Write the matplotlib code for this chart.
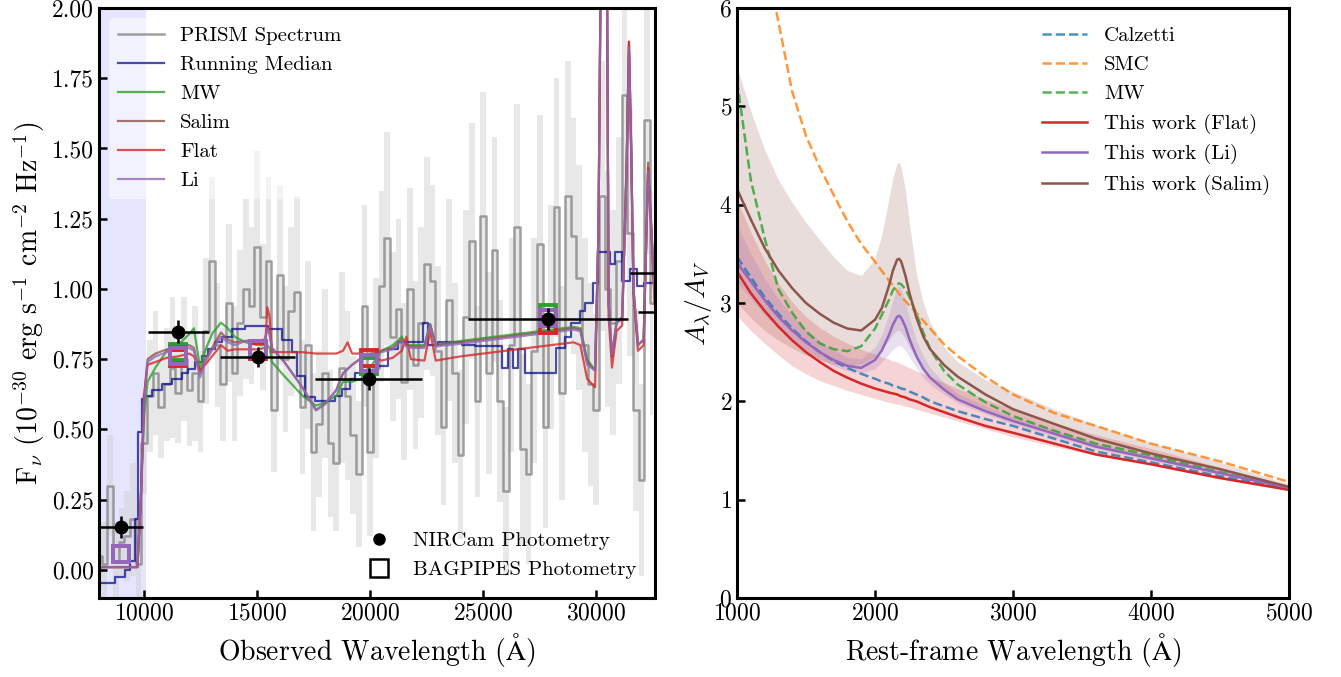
import numpy as np
import matplotlib
matplotlib.use("Agg")
import matplotlib.pyplot as plt

plt.rcParams['font.family'] = ['cmr10', 'DejaVu Serif']
plt.rcParams['mathtext.fontset'] = 'cm'
plt.rcParams['axes.formatter.use_mathtext'] = True

# ---- left panel: PRISM spectrum (flux, 1e-30 erg/s/cm2/Hz) ----
prism_wave = [8000, 8250, 8500, 8750, 9000, 9250, 9500, 9750, 10000, 10250,
              10500, 10750, 11000, 11250, 11500, 11750, 12000, 12250, 12500, 12750,
              13000, 13250, 13500, 13750, 14000, 14250, 14500, 14750, 15000, 15250,
              15500, 15750, 16000, 16250, 16500, 16750, 17000, 17250, 17500, 17750,
              18000, 18250, 18500, 18750, 19000, 19250, 19500, 19750, 20000, 20250,
              20500, 20750, 21000, 21250, 21500, 21750, 22000, 22250, 22500, 22750,
              23000, 23250, 23500, 23750, 24000, 24250, 24500, 24750, 25000, 25250,
              25500, 25750, 26000, 26250, 26500, 26750, 27000, 27250, 27500, 27750,
              28000, 28250, 28500, 28750, 29000, 29250, 29500, 29750, 30000, 30250,
              30500, 30750, 31000, 31250, 31500, 31750, 32000, 32250, 32500]
prism_flux = [0.05, 0.02, 0.30, 0.03, 0.10, 0.12, 0.18, 0.02, 0.45, 0.62,
              0.70, 0.58, 0.66, 0.72, 0.63, 0.75, 0.64, 0.70, 0.60, 0.85,
              1.10, 0.80, 0.66, 0.95, 0.70, 0.88, 1.00, 0.94, 1.15, 0.90,
              1.10, 0.57, 1.05, 0.75, 0.92, 0.99, 0.58, 0.80, 0.42, 0.52,
              0.70, 0.45, 0.38, 0.72, 0.62, 0.48, 0.34, 0.94, 0.42, 0.72,
              1.01, 1.18, 0.83, 0.93, 0.67, 1.00, 0.73, 0.88, 1.09, 1.03,
              0.78, 0.51, 0.96, 0.70, 0.41, 0.90, 1.17, 0.60, 1.26, 0.70,
              1.14, 0.60, 0.28, 0.80, 1.22, 0.43, 0.34, 0.78, 1.16, 0.51,
              0.90, 1.29, 0.63, 1.33, 1.19, 1.04, 0.80, 0.66, 0.57, 1.33,
              1.00, 0.88, 1.10, 1.69, 1.20, 0.57, 0.32, 1.60, 0.95]
prism_err = [0.12, 0.15, 0.18, 0.14, 0.12, 0.16, 0.20, 0.14, 0.18, 0.20,
             0.22, 0.18, 0.20, 0.25, 0.18, 0.22, 0.20, 0.24, 0.18, 0.26,
             0.30, 0.22, 0.20, 0.28, 0.24, 0.26, 0.32, 0.28, 0.34, 0.26,
             0.30, 0.22, 0.32, 0.26, 0.30, 0.34, 0.24, 0.30, 0.28, 0.26,
             0.30, 0.26, 0.24, 0.34, 0.30, 0.28, 0.26, 0.36, 0.30, 0.32,
             0.34, 0.38, 0.30, 0.32, 0.28, 0.36, 0.30, 0.34, 0.38, 0.34,
             0.30, 0.28, 0.36, 0.32, 0.30, 0.38, 0.42, 0.34, 0.44, 0.36,
             0.40, 0.36, 0.30, 0.38, 0.44, 0.34, 0.32, 0.40, 0.46, 0.36,
             0.40, 0.46, 0.38, 0.48, 0.42, 0.40, 0.38, 0.36, 0.34, 0.48,
             0.42, 0.40, 0.44, 0.50, 0.44, 0.36, 0.34, 0.48, 0.40]

# running median (step edges)
med_wave = [8000, 8700, 9150, 9370, 9590, 9740, 9890, 10000, 10330, 10770,
            11210, 11660, 11950, 12250, 12540, 12840, 13130, 13430, 13870, 14460,
            15490, 16080, 16520, 16750, 17110, 17560, 18440, 18740, 19110, 19330,
            19620, 20210, 20800, 21245, 22350, 22570, 23015, 24050, 24640, 25820,
            26110, 26330, 26560, 26850, 28220, 28600, 28900, 29280, 29500, 29870,
            30090, 30600, 30830, 31130, 31500, 31800, 32100, 32600]
med_flux = [-0.045, -0.026, 0.0, 0.03, 0.18, 0.49, 0.61, 0.62, 0.64, 0.66,
            0.68, 0.70, 0.715, 0.74, 0.76, 0.786, 0.81, 0.83, 0.857, 0.867,
            0.857, 0.82, 0.774, 0.69, 0.614, 0.60, 0.62, 0.644, 0.68, 0.70,
            0.727, 0.727, 0.786, 0.812, 0.878, 0.80, 0.81, 0.80, 0.798, 0.72,
            0.786, 0.72, 0.786, 0.70, 0.79, 0.83, 0.88, 0.92, 0.95, 1.02,
            1.13, 1.09, 1.13, 1.03, 1.07, 1.01, 1.02, 1.02]

# bagpipes model spectra
model_wave = [8000, 9700, 9850, 10000, 10150, 10500, 11000, 11500, 12000, 12200,
              12470, 12700, 13000, 13400, 13700, 14000, 14500, 15000, 15350, 15450,
              15550, 15650, 16200, 17000, 17600, 18000, 18500, 18800, 19000, 19200,
              19600, 20000, 20500, 21000, 21400, 21600, 21800, 22400, 22650, 22900,
              24000, 25000, 26000, 27000, 28000, 29000, 29300, 29600, 29950, 30100,
              30250, 30450, 30550, 30700, 30900, 31150, 31350, 31450, 31550, 31650,
              31850, 32100, 32300, 32450, 32600]
mw_flux = [0.01, 0.01, 0.25, 0.55, 0.67, 0.72, 0.78, 0.80, 0.84, 0.86,
           0.72, 0.78, 0.84, 0.88, 0.86, 0.83, 0.81, 0.80, 0.80, 0.80,
           0.79, 0.74, 0.69, 0.62, 0.585, 0.595, 0.62, 0.67, 0.67, 0.67,
           0.68, 0.72, 0.78, 0.80, 0.83, 0.80, 0.80, 0.80, 0.875, 0.80,
           0.815, 0.825, 0.835, 0.845, 0.855, 0.865, 0.86, 0.75, 0.71, 1.2,
           2.6, 2.6, 0.95, 0.76, 0.88, 0.90, 1.45, 1.87, 1.50, 1.00,
           0.80, 0.82, 1.43, 1.20, 0.95]
salim_flux = [0.01, 0.01, 0.25, 0.62, 0.75, 0.77, 0.785, 0.79, 0.80, 0.79,
              0.70, 0.75, 0.79, 0.845, 0.82, 0.81, 0.815, 0.815, 0.82, 0.86,
              0.84, 0.79, 0.74, 0.65, 0.57, 0.59, 0.64, 0.70, 0.715, 0.73,
              0.755, 0.77, 0.78, 0.79, 0.82, 0.80, 0.795, 0.795, 0.875, 0.80,
              0.81, 0.82, 0.83, 0.84, 0.85, 0.86, 0.855, 0.74, 0.71, 1.2,
              2.6, 2.6, 0.95, 0.76, 0.88, 0.90, 1.46, 1.88, 1.50, 1.00,
              0.80, 0.82, 1.45, 1.20, 0.95]
flat_flux = [0.01, 0.01, 0.25, 0.62, 0.73, 0.74, 0.755, 0.76, 0.77, 0.76,
             0.71, 0.73, 0.76, 0.80, 0.78, 0.785, 0.785, 0.785, 0.79, 0.935,
             0.90, 0.775, 0.775, 0.775, 0.77, 0.77, 0.77, 0.78, 0.81, 0.77,
             0.77, 0.765, 0.745, 0.755, 0.78, 0.83, 0.75, 0.745, 0.85, 0.745,
             0.76, 0.77, 0.78, 0.79, 0.80, 0.81, 0.80, 0.68, 0.65, 1.2,
             2.6, 2.6, 0.90, 0.72, 0.85, 0.87, 1.45, 1.88, 1.50, 0.98,
             0.78, 0.80, 1.43, 1.18, 0.93]
li_flux = [0.01, 0.01, 0.25, 0.60, 0.74, 0.76, 0.775, 0.785, 0.79, 0.78,
           0.685, 0.74, 0.78, 0.83, 0.81, 0.80, 0.815, 0.815, 0.82, 0.86,
           0.84, 0.79, 0.74, 0.65, 0.567, 0.59, 0.64, 0.70, 0.715, 0.73,
           0.75, 0.765, 0.775, 0.785, 0.815, 0.795, 0.79, 0.79, 0.87, 0.795,
           0.805, 0.815, 0.825, 0.835, 0.845, 0.855, 0.85, 0.73, 0.71, 1.2,
           2.6, 2.6, 0.95, 0.765, 0.88, 0.89, 1.44, 1.86, 1.48, 1.00,
           0.80, 0.82, 1.42, 1.20, 0.95]

# NIRCam photometry
phot_wave = [8973, 11509, 15022, 19930, 27850, 33621, 35684]
phot_flux = [0.152, 0.848, 0.757, 0.680, 0.893, 1.057, 0.918]
phot_xerr = [960, 1340, 1665, 2360, 3540, 2125, 3834]
phot_yerr = [0.04, 0.04, 0.035, 0.04, 0.04, 0.04, 0.04]

# bagpipes photometry
bp_wave = [8973, 11509, 15022, 19930, 27850]
bp_flat = [0.057, 0.755, 0.780, 0.755, 0.870]
bp_mw = [0.057, 0.775, 0.785, 0.725, 0.915]
bp_salim = [0.057, 0.765, 0.786, 0.735, 0.895]
bp_li = [0.057, 0.763, 0.786, 0.735, 0.895]

# ---- right panel: attenuation curves ----
att_wave = [1000, 1100, 1200, 1300, 1400, 1500, 1600, 1700, 1800, 1900,
            2000, 2050, 2100, 2130, 2160, 2175, 2190, 2220, 2250, 2300,
            2350, 2400, 2500, 2600, 2800, 3000, 3300, 3600, 4000, 4500, 5000]
calzetti = [3.47, 3.26, 3.06, 2.89, 2.74, 2.61, 2.50, 2.41, 2.34, 2.28,
            2.23, 2.20, 2.18, 2.16, 2.15, 2.14, 2.13, 2.12, 2.10, 2.07,
            2.04, 2.00, 1.95, 1.90, 1.82, 1.75, 1.62, 1.49, 1.38, 1.24, 1.11]
mw_curve = [5.26, 4.25, 3.66, 3.14, 2.90, 2.71, 2.59, 2.53, 2.51, 2.56,
            2.74, 2.88, 3.03, 3.13, 3.19, 3.20, 3.19, 3.14, 3.06, 2.89,
            2.70, 2.53, 2.31, 2.17, 1.99, 1.85, 1.70, 1.57, 1.45, 1.28, 1.12]
flat_curve = [3.32, 3.10, 2.92, 2.76, 2.62, 2.50, 2.40, 2.31, 2.24, 2.18,
              2.13, 2.11, 2.09, 2.08, 2.07, 2.06, 2.05, 2.04, 2.02, 2.00,
              1.97, 1.94, 1.89, 1.84, 1.75, 1.68, 1.57, 1.46, 1.36, 1.22, 1.10]
flat_lo = [2.87, 2.72, 2.59, 2.47, 2.36, 2.28, 2.21, 2.16, 2.11, 2.07,
           2.03, 2.01, 1.99, 1.98, 1.97, 1.97, 1.96, 1.95, 1.94, 1.92,
           1.90, 1.88, 1.84, 1.80, 1.72, 1.64, 1.54, 1.45, 1.35, 1.21, 1.09]
flat_hi = [4.05, 3.72, 3.43, 3.20, 3.01, 2.86, 2.75, 2.66, 2.59, 2.53,
           2.48, 2.45, 2.43, 2.41, 2.40, 2.39, 2.38, 2.36, 2.34, 2.31,
           2.28, 2.25, 2.19, 2.13, 2.02, 1.92, 1.78, 1.66, 1.52, 1.33, 1.14]
li_curve = [3.41, 3.22, 3.03, 2.86, 2.72, 2.60, 2.50, 2.42, 2.36, 2.34,
            2.42, 2.52, 2.67, 2.78, 2.86, 2.87, 2.85, 2.76, 2.63, 2.46,
            2.33, 2.24, 2.12, 2.02, 1.90, 1.80, 1.67, 1.54, 1.42, 1.27, 1.12]
li_lo = [3.20, 3.05, 2.88, 2.74, 2.62, 2.52, 2.43, 2.36, 2.31, 2.29,
         2.33, 2.40, 2.48, 2.53, 2.56, 2.57, 2.56, 2.52, 2.45, 2.34,
         2.24, 2.17, 2.07, 1.98, 1.87, 1.77, 1.64, 1.52, 1.40, 1.26, 1.11]
li_hi = [3.80, 3.50, 3.25, 3.04, 2.87, 2.73, 2.61, 2.52, 2.45, 2.43,
         2.55, 2.68, 2.88, 3.03, 3.15, 3.17, 3.14, 3.02, 2.85, 2.62,
         2.46, 2.34, 2.19, 2.08, 1.95, 1.84, 1.71, 1.57, 1.45, 1.29, 1.13]
salim_curve = [4.16, 3.85, 3.56, 3.33, 3.15, 3.00, 2.89, 2.80, 2.74, 2.72,
               2.83, 2.95, 3.17, 3.33, 3.44, 3.45, 3.42, 3.28, 3.10, 2.85,
               2.66, 2.53, 2.37, 2.25, 2.07, 1.92, 1.77, 1.62, 1.47, 1.31, 1.13]
salim_lo = [3.00, 2.85, 2.72, 2.62, 2.54, 2.47, 2.42, 2.38, 2.36, 2.38,
            2.45, 2.52, 2.62, 2.68, 2.72, 2.72, 2.70, 2.64, 2.55, 2.43,
            2.33, 2.25, 2.13, 2.04, 1.92, 1.81, 1.68, 1.55, 1.42, 1.27, 1.11]
salim_hi = [5.40, 4.95, 4.56, 4.25, 4.02, 3.82, 3.64, 3.47, 3.33, 3.28,
            3.45, 3.70, 4.05, 4.28, 4.42, 4.43, 4.38, 4.15, 3.80, 3.30,
            3.00, 2.80, 2.55, 2.40, 2.22, 2.10, 1.92, 1.76, 1.58, 1.38, 1.16]
smc_wave = [1200, 1280, 1400, 1500, 1600, 1700, 1800, 1900, 2000, 2100,
            2200, 2300, 2400, 2500, 2600, 2800, 3000, 3300, 3600, 4000, 4500, 5000]
smc_curve = [6.60, 6.00, 5.15, 4.70, 4.38, 4.10, 3.83, 3.60, 3.42, 3.23,
             3.05, 2.90, 2.74, 2.58, 2.46, 2.25, 2.07, 1.88, 1.75, 1.57, 1.39, 1.18]

fig = plt.figure(figsize=(13.41, 6.77), dpi=100)
ax1 = fig.add_axes([0.0738, 0.1167, 0.4146, 0.8715])
ax2 = fig.add_axes([0.5496, 0.1167, 0.4116, 0.8715])

# left panel
ax1.axvspan(7000, 10100, color='blue', alpha=0.1, lw=0)
pf = np.array(prism_flux)
pe = np.array(prism_err)
ax1.fill_between(prism_wave, pf - pe, pf + pe, step='mid', color='lightgray', alpha=0.5, lw=0)
ax1.plot(prism_wave, prism_flux, drawstyle='steps-mid', color='gray', alpha=0.75, lw=1.8,
         label='PRISM Spectrum')
ax1.plot(med_wave, med_flux, drawstyle='steps-post', color='darkblue', alpha=0.7, lw=1.6,
         label='Running Median')
ax1.plot(model_wave, mw_flux, color='tab:green', alpha=0.8, lw=1.6, label='MW')
ax1.plot(model_wave, salim_flux, color='tab:brown', alpha=0.8, lw=1.6, label='Salim')
ax1.plot(model_wave, flat_flux, color='tab:red', alpha=0.8, lw=1.6, label='Flat')
ax1.plot(model_wave, li_flux, color='tab:purple', alpha=0.8, lw=1.6, label='Li')

for vals, c in [(bp_flat, 'tab:red'), (bp_mw, 'tab:green'),
                (bp_salim, 'tab:brown'), (bp_li, 'tab:purple')]:
    ax1.plot(bp_wave, vals, 's', ms=11, mfc='none', mec=c, mew=2.8, zorder=5)
ax1.errorbar(phot_wave, phot_flux, xerr=phot_xerr, yerr=phot_yerr, fmt='o', color='black',
             ms=9, elinewidth=1.8, capsize=0, zorder=6)

leg1 = ax1.legend(loc='upper left', fontsize=15, framealpha=0.5, edgecolor='none',
                  handlelength=2.2)
ax1.add_artist(leg1)
h1, = ax1.plot([], [], 'o', color='black', ms=8)
h2, = ax1.plot([], [], 's', ms=13, mfc='none', mec='black', mew=1.8)
ax1.legend([h1, h2], ['NIRCam Photometry', 'BAGPIPES Photometry'], loc='lower right',
           fontsize=15, frameon=False, handletextpad=0.6)

ax1.set_xlim(8000, 32600)
ax1.set_ylim(-0.1, 2.0)
ax1.set_xticks([10000, 15000, 20000, 25000, 30000])
ax1.set_yticks([0.0, 0.25, 0.5, 0.75, 1.0, 1.25, 1.5, 1.75, 2.0])
ax1.set_yticklabels(['0.00', '0.25', '0.50', '0.75', '1.00', '1.25', '1.50', '1.75', '2.00'])
ax1.set_xlabel(r'Observed Wavelength ($\mathrm{\AA}$)', fontsize=20)
ax1.set_ylabel(r'F$_\nu$ ($10^{-30}$ erg s$^{-1}$ cm$^{-2}$ Hz$^{-1}$)', fontsize=20)

# right panel
ax2.fill_between(att_wave, salim_lo, salim_hi, color='tab:brown', alpha=0.2, lw=0)
ax2.fill_between(att_wave, flat_lo, flat_hi, color='tab:red', alpha=0.2, lw=0)
ax2.fill_between(att_wave, li_lo, li_hi, color='tab:purple', alpha=0.2, lw=0)
ax2.plot(att_wave, calzetti, '--', color='tab:blue', alpha=0.8, lw=1.8, label='Calzetti')
ax2.plot(smc_wave, smc_curve, '--', color='tab:orange', alpha=0.8, lw=1.8, label='SMC')
ax2.plot(att_wave, mw_curve, '--', color='tab:green', alpha=0.8, lw=1.8, label='MW')
ax2.plot(att_wave, flat_curve, color='tab:red', lw=1.8, label='This work (Flat)')
ax2.plot(att_wave, li_curve, color='tab:purple', lw=1.8, label='This work (Li)')
ax2.plot(att_wave, salim_curve, color='tab:brown', lw=1.8, label='This work (Salim)')
ax2.legend(loc='upper right', fontsize=15, frameon=False, handlelength=2.2)

ax2.set_xlim(1000, 5000)
ax2.set_ylim(0, 6)
ax2.set_xticks([1000, 2000, 3000, 4000, 5000])
ax2.set_yticks([0, 1, 2, 3, 4, 5, 6])
ax2.set_xlabel(r'Rest-frame Wavelength ($\mathrm{\AA}$)', fontsize=20)
ax2.set_ylabel(r'$A_\lambda/A_V$', fontsize=20)

for ax in (ax1, ax2):
    ax.tick_params(direction='in', length=6, width=1.8, labelsize=17)
    for s in ax.spines.values():
        s.set_linewidth(2.2)

fig.savefig('out.png', dpi=100)
